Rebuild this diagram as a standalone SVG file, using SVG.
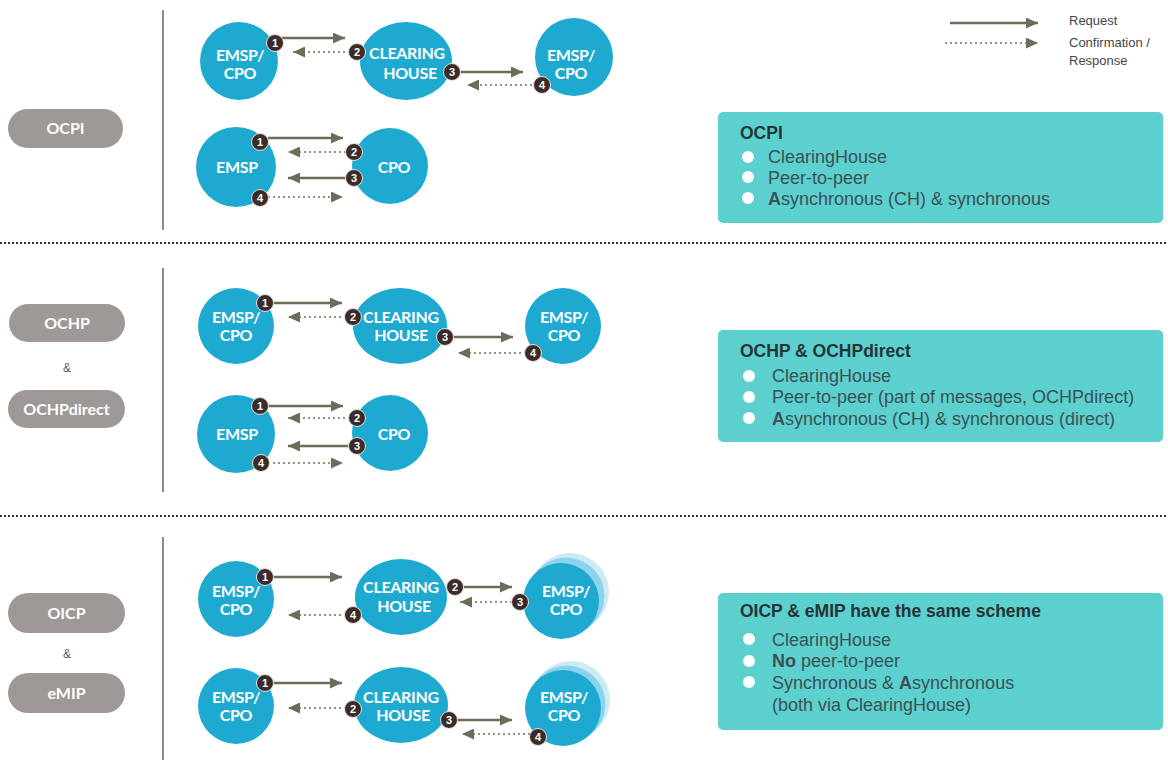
<svg xmlns="http://www.w3.org/2000/svg" width="1168" height="760" viewBox="0 0 1168 760">
<defs>
<style>
.node{fill:#1eaad0}
.halo1{fill:#cdebf5}
.halo2{fill:#8cd2ea}
.nt{font-family:Lato,"Liberation Sans",Arial,sans-serif;font-size:16px;font-weight:bold;fill:#ffffff;text-anchor:middle;letter-spacing:-0.3px}
.pill{fill:#9e9897}
.pt{font-family:Lato,"Liberation Sans",Arial,sans-serif;font-size:16px;font-weight:bold;fill:#ffffff;text-anchor:middle}
.amp{font-family:"Liberation Sans",Arial,sans-serif;font-size:12px;fill:#555;text-anchor:middle}
.req{stroke:#6d6c59;stroke-width:2.5;fill:none}
.resp{stroke:#6d6c59;stroke-width:1.5;stroke-dasharray:2 3;fill:none}
.badge{fill:#3b2b29;stroke:#e8e2dc;stroke-width:1}
.bt{font-family:"Liberation Sans",Arial,sans-serif;font-size:11px;font-weight:bold;fill:#ffffff;text-anchor:middle}
.vline{stroke:#666;stroke-width:1.5}
.sep{stroke:#333;stroke-width:2;stroke-dasharray:2 2}
.box{fill:#5ccfcf}
.bh{font-family:"Liberation Sans",Arial,sans-serif;font-size:17.5px;font-weight:bold;fill:#263535}
.bx{font-family:"Liberation Sans",Arial,sans-serif;font-size:18px;fill:#3a5252}
.bullet{fill:#ffffff}
.lg{font-family:"Liberation Sans",Arial,sans-serif;font-size:13px;fill:#444}
</style>
<marker id="ah" viewBox="0 0 12 11" refX="12" refY="5.5" markerWidth="12" markerHeight="11" markerUnits="userSpaceOnUse" orient="auto">
<path d="M0,0 L12,5.5 L0,11 z" fill="#6d6c59"/>
</marker>
</defs>
<rect width="1168" height="760" fill="#ffffff"/>

<g id="frame">
<line class="vline" x1="163" y1="10" x2="163" y2="230"/>
<line class="vline" x1="163" y1="268" x2="163" y2="492"/>
<line class="vline" x1="163" y1="537" x2="163" y2="760"/>
<line class="sep" x1="0" y1="243" x2="1166" y2="243"/>
<line class="sep" x1="0" y1="516" x2="1166" y2="516"/>
</g>

<g id="legend">
<line class="req" x1="950" y1="23" x2="1038" y2="23" marker-end="url(#ah)"/>
<line class="resp" x1="945" y1="43" x2="1038" y2="43" marker-end="url(#ah)"/>
<text class="lg" x="1069" y="25">Request</text>
<text class="lg" x="1069" y="47">Confirmation /</text>
<text class="lg" x="1069" y="65">Response</text>
</g>

<g id="pill-ocpi"><rect class="pill" x="8" y="109" width="115" height="39" rx="19.5"/><text class="pt" x="65.5" y="134">OCPI</text></g>
<g id="pill-ochp"><rect class="pill" x="9" y="304" width="116" height="38" rx="19"/><text class="pt" x="67" y="329">OCHP</text></g>
<text class="amp" x="67" y="372">&amp;</text>
<g id="pill-ochpdirect"><rect class="pill" x="8" y="390" width="117" height="38" rx="19"/><text class="pt" x="66.5" y="415">OCHPdirect</text></g>
<g id="pill-oicp"><rect class="pill" x="8" y="593" width="117" height="40" rx="20"/><text class="pt" x="66.5" y="619">OICP</text></g>
<text class="amp" x="67" y="658">&amp;</text>
<g id="pill-emip"><rect class="pill" x="8" y="673" width="117" height="40" rx="20"/><text class="pt" x="66.5" y="699">eMIP</text></g>

<!-- Section 1 row 1 -->
<g id="s1r1-a"><circle class="node" cx="239" cy="61" r="39"/><text class="nt" x="240" y="61">EMSP/</text><text class="nt" x="240" y="79">CPO</text></g>
<g id="s1r1-ch"><ellipse class="node" cx="406" cy="61" rx="46" ry="39"/><text class="nt" x="407" y="59">CLEARING</text><text class="nt" x="410" y="79">HOUSE</text></g>
<g id="s1r1-b"><circle class="node" cx="574" cy="57" r="39"/><text class="nt" x="571" y="61">EMSP/</text><text class="nt" x="571" y="79">CPO</text></g>
<!-- Section 1 row 2 -->
<g id="s1r2-emsp"><circle class="node" cx="236" cy="167" r="40"/><text class="nt" x="237" y="173">EMSP</text></g>
<g id="s1r2-cpo"><circle class="node" cx="390" cy="166" r="38"/><text class="nt" x="394" y="173">CPO</text></g>

<!-- Section 2 row 1 -->
<g id="s2r1-a"><circle class="node" cx="236" cy="326" r="38"/><text class="nt" x="236" y="323">EMSP/</text><text class="nt" x="236" y="341">CPO</text></g>
<g id="s2r1-ch"><ellipse class="node" cx="400" cy="326" rx="47" ry="38"/><text class="nt" x="401" y="323">CLEARING</text><text class="nt" x="401" y="341">HOUSE</text></g>
<g id="s2r1-b"><circle class="node" cx="563" cy="326" r="38"/><text class="nt" x="564" y="323">EMSP/</text><text class="nt" x="564" y="341">CPO</text></g>
<!-- Section 2 row 2 -->
<g id="s2r2-emsp"><circle class="node" cx="236" cy="434" r="39"/><text class="nt" x="237" y="440">EMSP</text></g>
<g id="s2r2-cpo"><circle class="node" cx="390" cy="433" r="38"/><text class="nt" x="394" y="440">CPO</text></g>

<!-- Section 3 row 1 -->
<g id="s3r1-a"><circle class="node" cx="236" cy="599" r="38"/><text class="nt" x="236" y="597">EMSP/</text><text class="nt" x="236" y="615">CPO</text></g>
<g id="s3r1-ch"><ellipse class="node" cx="401" cy="597" rx="46" ry="38"/><text class="nt" x="401" y="593">CLEARING</text><text class="nt" x="404" y="612">HOUSE</text></g>
<g id="s3r1-b"><circle class="halo1" cx="570" cy="592" r="39"/><circle class="halo2" cx="566" cy="596" r="38.5"/><circle class="node" cx="561" cy="601" r="38"/><text class="nt" x="566" y="597">EMSP/</text><text class="nt" x="566" y="615">CPO</text></g>
<!-- Section 3 row 2 -->
<g id="s3r2-a"><circle class="node" cx="236" cy="706" r="38"/><text class="nt" x="236" y="703">EMSP/</text><text class="nt" x="236" y="721">CPO</text></g>
<g id="s3r2-ch"><ellipse class="node" cx="401" cy="705" rx="47" ry="38"/><text class="nt" x="401" y="703">CLEARING</text><text class="nt" x="403" y="721">HOUSE</text></g>
<g id="s3r2-b"><circle class="halo1" cx="571" cy="700" r="39"/><circle class="halo2" cx="567" cy="704" r="38.5"/><circle class="node" cx="563" cy="708" r="38"/><text class="nt" x="564" y="703">EMSP/</text><text class="nt" x="564" y="721">CPO</text></g>

<g id="connectors">
<!-- s1 r1 -->
<line class="req" x1="277" y1="38" x2="345" y2="38" marker-end="url(#ah)"/>
<line class="resp" x1="350" y1="52" x2="293" y2="52" marker-end="url(#ah)"/>
<line class="req" x1="455" y1="72" x2="523" y2="72" marker-end="url(#ah)"/>
<line class="resp" x1="537" y1="85" x2="467" y2="85" marker-end="url(#ah)"/>
<!-- s1 r2 -->
<line class="req" x1="268" y1="138" x2="343" y2="138" marker-end="url(#ah)"/>
<line class="resp" x1="346" y1="152" x2="288" y2="152" marker-end="url(#ah)"/>
<line class="req" x1="346" y1="178" x2="288" y2="178" marker-end="url(#ah)"/>
<line class="resp" x1="268" y1="197" x2="343" y2="197" marker-end="url(#ah)"/>
<!-- s2 r1 -->
<line class="req" x1="273" y1="303" x2="342" y2="303" marker-end="url(#ah)"/>
<line class="resp" x1="346" y1="317" x2="288" y2="317" marker-end="url(#ah)"/>
<line class="req" x1="453" y1="337" x2="513" y2="337" marker-end="url(#ah)"/>
<line class="resp" x1="526" y1="353" x2="458" y2="353" marker-end="url(#ah)"/>
<!-- s2 r2 -->
<line class="req" x1="268" y1="406" x2="343" y2="406" marker-end="url(#ah)"/>
<line class="resp" x1="350" y1="418" x2="288" y2="418" marker-end="url(#ah)"/>
<line class="req" x1="350" y1="446" x2="288" y2="446" marker-end="url(#ah)"/>
<line class="resp" x1="268" y1="463" x2="343" y2="463" marker-end="url(#ah)"/>
<!-- s3 r1 -->
<line class="req" x1="273" y1="577" x2="342" y2="577" marker-end="url(#ah)"/>
<line class="req" x1="463" y1="587" x2="512" y2="587" marker-end="url(#ah)"/>
<line class="resp" x1="512" y1="602" x2="460" y2="602" marker-end="url(#ah)"/>
<line class="resp" x1="346" y1="615" x2="288" y2="615" marker-end="url(#ah)"/>
<!-- s3 r2 -->
<line class="req" x1="273" y1="683" x2="342" y2="683" marker-end="url(#ah)"/>
<line class="resp" x1="346" y1="708" x2="288" y2="708" marker-end="url(#ah)"/>
<line class="req" x1="457" y1="720" x2="512" y2="720" marker-end="url(#ah)"/>
<line class="resp" x1="530" y1="734" x2="462" y2="734" marker-end="url(#ah)"/>
</g>

<g id="badges">
<g><circle class="badge" cx="275" cy="43" r="8.5"/><text class="bt" x="275" y="47">1</text></g>
<g><circle class="badge" cx="357" cy="52" r="8.5"/><text class="bt" x="357" y="56">2</text></g>
<g><circle class="badge" cx="452" cy="72" r="8.5"/><text class="bt" x="452" y="76">3</text></g>
<g><circle class="badge" cx="542" cy="85" r="8.5"/><text class="bt" x="542" y="89">4</text></g>

<g><circle class="badge" cx="260" cy="142" r="8.5"/><text class="bt" x="260" y="146">1</text></g>
<g><circle class="badge" cx="354" cy="152" r="8.5"/><text class="bt" x="354" y="156">2</text></g>
<g><circle class="badge" cx="354" cy="178" r="8.5"/><text class="bt" x="354" y="182">3</text></g>
<g><circle class="badge" cx="260" cy="198" r="8.5"/><text class="bt" x="260" y="202">4</text></g>

<g><circle class="badge" cx="265" cy="303" r="8.5"/><text class="bt" x="265" y="307">1</text></g>
<g><circle class="badge" cx="353" cy="317" r="8.5"/><text class="bt" x="353" y="321">2</text></g>
<g><circle class="badge" cx="445" cy="337" r="8.5"/><text class="bt" x="445" y="341">3</text></g>
<g><circle class="badge" cx="533" cy="353" r="8.5"/><text class="bt" x="533" y="357">4</text></g>

<g><circle class="badge" cx="260" cy="406" r="8.5"/><text class="bt" x="260" y="410">1</text></g>
<g><circle class="badge" cx="357" cy="418" r="8.5"/><text class="bt" x="357" y="422">2</text></g>
<g><circle class="badge" cx="357" cy="446" r="8.5"/><text class="bt" x="357" y="450">3</text></g>
<g><circle class="badge" cx="261" cy="463" r="8.5"/><text class="bt" x="261" y="467">4</text></g>

<g><circle class="badge" cx="265" cy="577" r="8.5"/><text class="bt" x="265" y="581">1</text></g>
<g><circle class="badge" cx="455" cy="587" r="8.5"/><text class="bt" x="455" y="591">2</text></g>
<g><circle class="badge" cx="520" cy="602" r="8.5"/><text class="bt" x="520" y="606">3</text></g>
<g><circle class="badge" cx="353" cy="615" r="8.5"/><text class="bt" x="353" y="619">4</text></g>

<g><circle class="badge" cx="265" cy="683" r="8.5"/><text class="bt" x="265" y="687">1</text></g>
<g><circle class="badge" cx="353" cy="709" r="8.5"/><text class="bt" x="353" y="713">2</text></g>
<g><circle class="badge" cx="449" cy="720" r="8.5"/><text class="bt" x="449" y="724">3</text></g>
<g><circle class="badge" cx="538" cy="737" r="8.5"/><text class="bt" x="538" y="741">4</text></g>
</g>

<g id="info-ocpi">
<rect class="box" x="718" y="112" width="445" height="111" rx="5"/>
<text class="bh" x="740" y="139">OCPI</text>
<circle class="bullet" cx="748" cy="157" r="6"/><circle class="bullet" cx="748" cy="177" r="6"/><circle class="bullet" cx="748" cy="198" r="6"/>
<text class="bx" x="768" y="163">ClearingHouse</text>
<text class="bx" x="768" y="184">Peer-to-peer</text>
<text class="bx" x="768" y="205"><tspan font-weight="bold">A</tspan>synchronous (CH) &amp; synchronous</text>
</g>

<g id="info-ochp">
<rect class="box" x="718" y="330" width="445" height="112" rx="5"/>
<text class="bh" x="740" y="357">OCHP &amp; OCHPdirect</text>
<circle class="bullet" cx="749" cy="376" r="6"/><circle class="bullet" cx="749" cy="397" r="6"/><circle class="bullet" cx="749" cy="418" r="6"/>
<text class="bx" x="772" y="382">ClearingHouse</text>
<text class="bx" x="772" y="403">Peer-to-peer (part of messages, OCHPdirect)</text>
<text class="bx" x="772" y="425"><tspan font-weight="bold">A</tspan>synchronous (CH) &amp; synchronous (direct)</text>
</g>

<g id="info-oicp">
<rect class="box" x="718" y="593" width="445" height="137" rx="5"/>
<text class="bh" x="740" y="617">OICP &amp; eMIP have the same scheme</text>
<circle class="bullet" cx="749" cy="639" r="6"/><circle class="bullet" cx="749" cy="661" r="6"/><circle class="bullet" cx="749" cy="682" r="6"/>
<text class="bx" x="772" y="646">ClearingHouse</text>
<text class="bx" x="772" y="667"><tspan font-weight="bold">No</tspan> peer-to-peer</text>
<text class="bx" x="772" y="689">Synchronous &amp; <tspan font-weight="bold">A</tspan>synchronous</text>
<text class="bx" x="772" y="711">(both via ClearingHouse)</text>
</g>
</svg>
